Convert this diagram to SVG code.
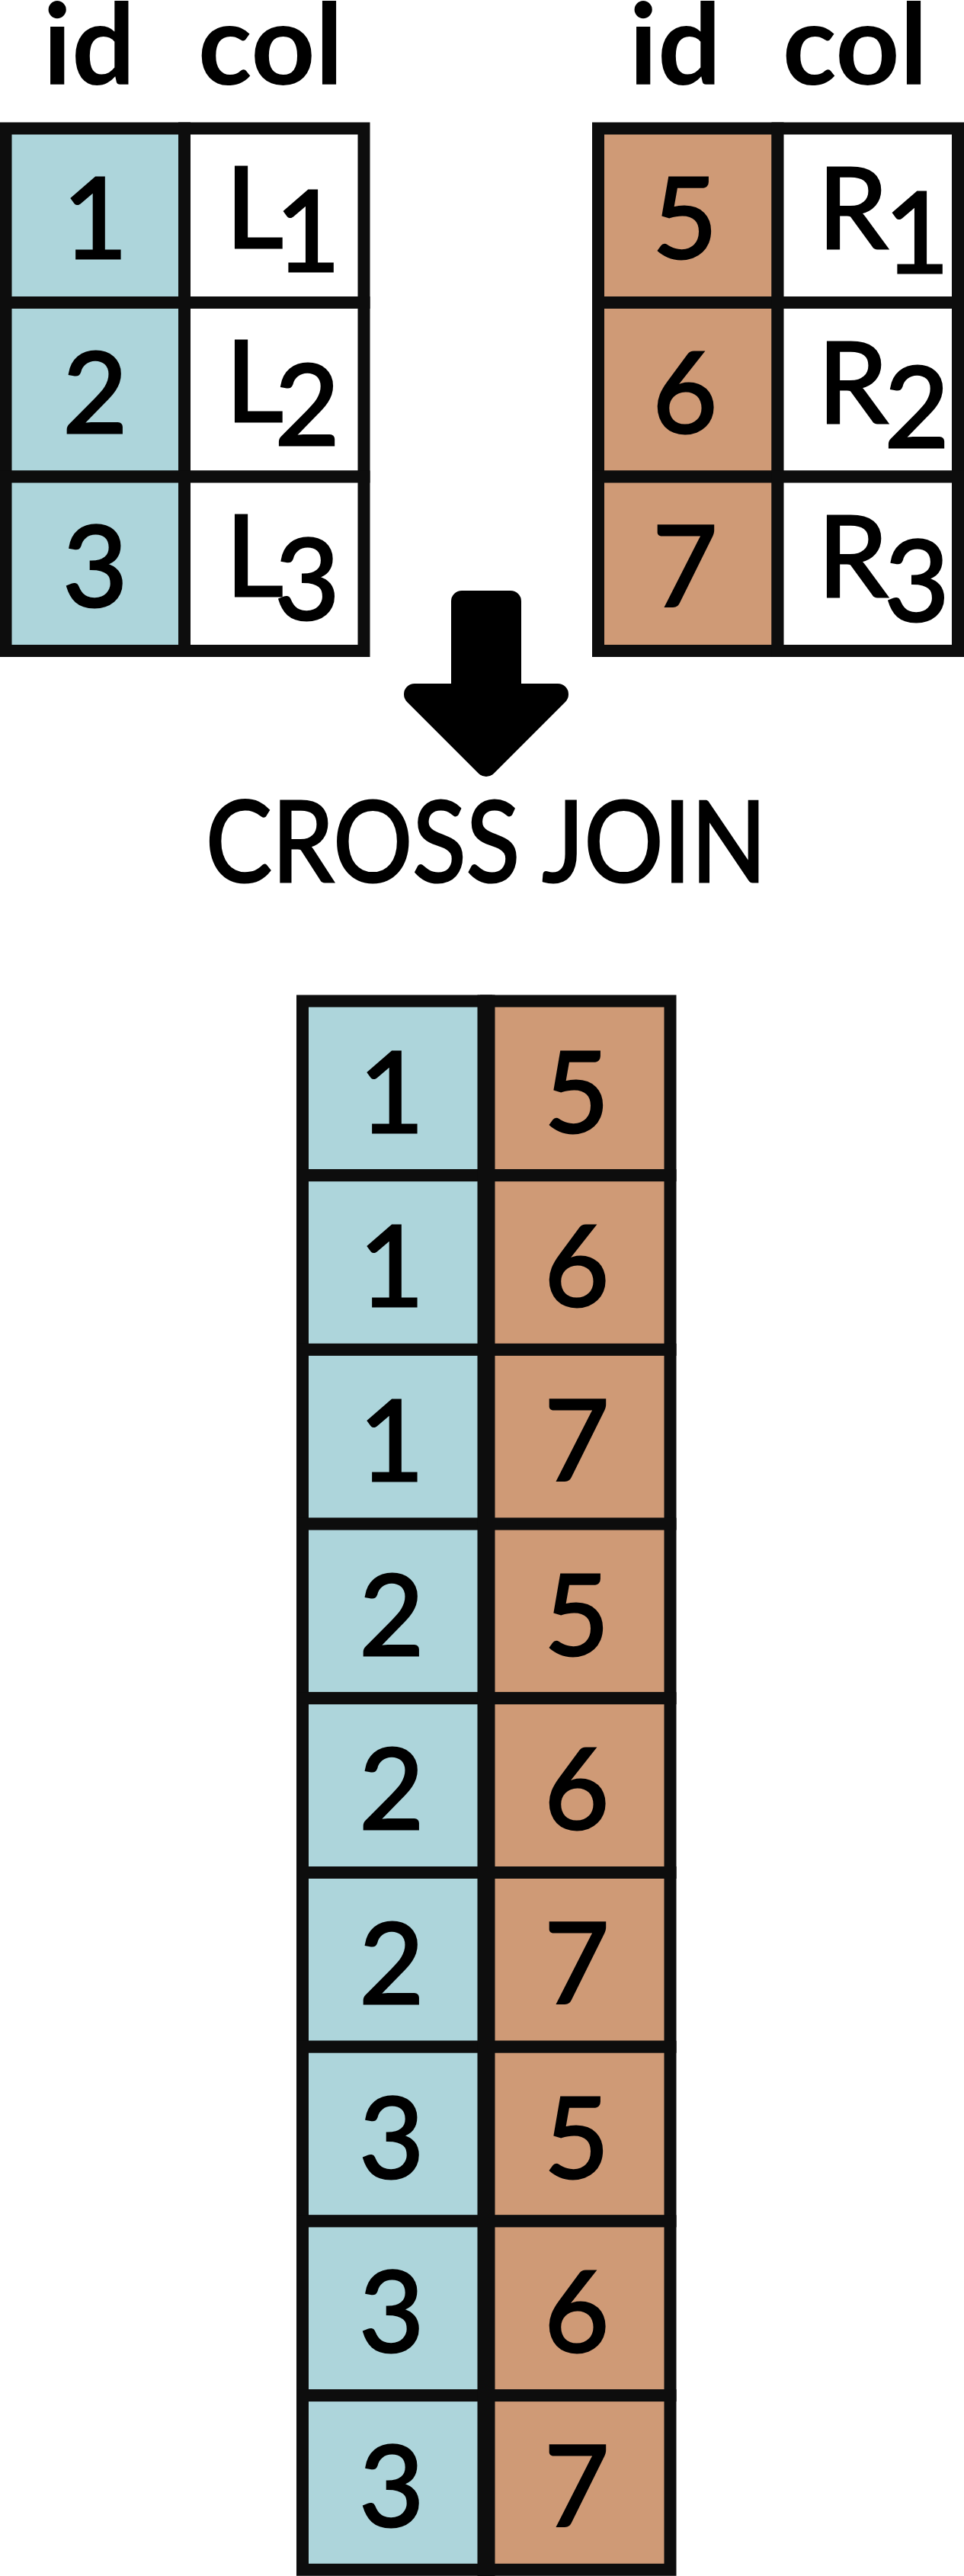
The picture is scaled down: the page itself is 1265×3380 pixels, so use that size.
<svg xmlns="http://www.w3.org/2000/svg" width="1265" height="3380" viewBox="0 0 1265 3380">
<style>
.bg{fill:#ffffff}
.b{fill:#add5db;stroke:#0d0d0d;stroke-width:16}
.o{fill:#cf9a76;stroke:#0d0d0d;stroke-width:16}
.w{fill:#ffffff;stroke:#0d0d0d;stroke-width:16}
.t{font-family:Lato,"Open Sans","Liberation Sans",sans-serif;font-size:147px;fill:#000;stroke:#000;stroke-width:3;text-anchor:middle}
.ts{font-family:Lato,"Open Sans","Liberation Sans",sans-serif;font-size:147px;fill:#000;stroke:#000;stroke-width:3;text-anchor:start}
.h{font-family:Lato,"Open Sans","Liberation Sans",sans-serif;font-size:147px;font-weight:bold;fill:#000;text-anchor:middle}
.div{stroke:#0d0d0d;stroke-width:23}
</style>
<rect class="bg" x="0" y="0" width="1265" height="3380"/>

<g id="left-table">
  <text class="h" x="117" y="111">id</text>
  <text class="h" x="355" y="111">col</text>
  <g id="L-row1">
    <rect class="b" x="7.5" y="168.5" width="234.5" height="228.5"/>
    <rect class="w" x="242" y="168.5" width="235.5" height="228.5"/>
    <text class="t" x="125" y="339">1</text>
    <text class="ts" x="296" y="325">L<tspan x="361.5" dy="31">1</tspan></text>
  </g>
  <g id="L-row2">
    <rect class="b" x="7.5" y="397" width="234.5" height="228.5"/>
    <rect class="w" x="242" y="397" width="235.5" height="228.5"/>
    <text class="t" x="125" y="567.5">2</text>
    <text class="ts" x="296" y="553">L<tspan x="360.5" dy="31">2</tspan></text>
  </g>
  <g id="L-row3">
    <rect class="b" x="7.5" y="625.5" width="234.5" height="228.5"/>
    <rect class="w" x="242" y="625.5" width="235.5" height="228.5"/>
    <text class="t" x="125" y="796">3</text>
    <text class="ts" x="296" y="781.5">L<tspan x="360.5" dy="31">3</tspan></text>
  </g>
</g>

<g id="right-table">
  <text class="h" x="886" y="111">id</text>
  <text class="h" x="1122" y="111">col</text>
  <g id="R-row1">
    <rect class="o" x="785" y="168.5" width="235.5" height="228.5"/>
    <rect class="w" x="1020.5" y="168.5" width="236.5" height="228.5"/>
    <text class="t" x="899" y="339">5</text>
    <text class="ts" x="1073" y="326">R<tspan x="1160.5" dy="32">1</tspan></text>
  </g>
  <g id="R-row2">
    <rect class="o" x="785" y="397" width="235.5" height="228.5"/>
    <rect class="w" x="1020.5" y="397" width="236.5" height="228.5"/>
    <text class="t" x="899" y="567.5">6</text>
    <text class="ts" x="1073" y="554.5">R<tspan x="1160.5" dy="32">2</tspan></text>
  </g>
  <g id="R-row3">
    <rect class="o" x="785" y="625.5" width="235.5" height="228.5"/>
    <rect class="w" x="1020.5" y="625.5" width="236.5" height="228.5"/>
    <text class="t" x="899" y="796">7</text>
    <text class="ts" x="1073" y="783">R<tspan x="1160.5" dy="32">3</tspan></text>
  </g>
</g>

<g id="connectors">
  <polygon points="606,789 670,789 670,911 732,911 638,1005 544,911 606,911" fill="#000" stroke="#000" stroke-width="28" stroke-linejoin="round"/>
</g>

<g id="cross-join-label">
  <text class="t" x="638" y="1157" textLength="736" lengthAdjust="spacingAndGlyphs">CROSS JOIN</text>
</g>

<g id="result-table">
  <g id="res-row1"><rect class="b" x="397" y="1313.5" width="241" height="228.7"/><rect class="o" x="638" y="1313.5" width="241.5" height="228.7"/><text class="t" x="514" y="1485.5">1</text><text class="t" x="757" y="1485.5">5</text></g>
  <g id="res-row2"><rect class="b" x="397" y="1542.2" width="241" height="228.7"/><rect class="o" x="638" y="1542.2" width="241.5" height="228.7"/><text class="t" x="514" y="1714.2">1</text><text class="t" x="757" y="1714.2">6</text></g>
  <g id="res-row3"><rect class="b" x="397" y="1770.9" width="241" height="228.7"/><rect class="o" x="638" y="1770.9" width="241.5" height="228.7"/><text class="t" x="514" y="1942.9">1</text><text class="t" x="757" y="1942.9">7</text></g>
  <g id="res-row4"><rect class="b" x="397" y="1999.6" width="241" height="228.7"/><rect class="o" x="638" y="1999.6" width="241.5" height="228.7"/><text class="t" x="514" y="2171.6">2</text><text class="t" x="757" y="2171.6">5</text></g>
  <g id="res-row5"><rect class="b" x="397" y="2228.3" width="241" height="228.7"/><rect class="o" x="638" y="2228.3" width="241.5" height="228.7"/><text class="t" x="514" y="2400.3">2</text><text class="t" x="757" y="2400.3">6</text></g>
  <g id="res-row6"><rect class="b" x="397" y="2457" width="241" height="228.7"/><rect class="o" x="638" y="2457" width="241.5" height="228.7"/><text class="t" x="514" y="2629">2</text><text class="t" x="757" y="2629">7</text></g>
  <g id="res-row7"><rect class="b" x="397" y="2685.7" width="241" height="228.7"/><rect class="o" x="638" y="2685.7" width="241.5" height="228.7"/><text class="t" x="514" y="2857.7">3</text><text class="t" x="757" y="2857.7">5</text></g>
  <g id="res-row8"><rect class="b" x="397" y="2914.4" width="241" height="228.7"/><rect class="o" x="638" y="2914.4" width="241.5" height="228.7"/><text class="t" x="514" y="3086.4">3</text><text class="t" x="757" y="3086.4">6</text></g>
  <g id="res-row9"><rect class="b" x="397" y="3143.1" width="241" height="228.7"/><rect class="o" x="638" y="3143.1" width="241.5" height="228.7"/><text class="t" x="514" y="3315.1">3</text><text class="t" x="757" y="3315.1">7</text></g>
  <line class="div" x1="638" y1="1305.5" x2="638" y2="3380"/>
</g>
</svg>
